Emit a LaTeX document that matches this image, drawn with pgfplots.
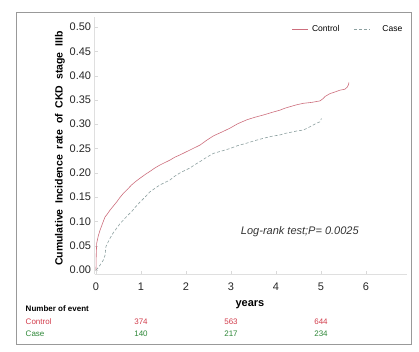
\documentclass[border=0pt]{standalone}
\usepackage{pgfplots}
\pgfplotsset{compat=1.18}
\usepackage{fontspec}
\setmainfont{Liberation Sans}
\definecolor{ctrl}{RGB}{205,110,125}
\definecolor{casec}{RGB}{140,160,160}
\definecolor{ctxt}{RGB}{210,60,75}
\definecolor{gtxt}{RGB}{45,135,55}
\begin{document}
\begin{tikzpicture}
\path (0pt,0pt) rectangle (419pt,351pt);
\draw[black!40, line width=0.9pt] (16pt,7pt) rectangle (411pt,339pt);
\begin{axis}[
  x=45pt, y=486pt,
  anchor=origin, at={(96pt,81pt)},
  xmin=-0.03, xmax=6.9, ymin=-0.009, ymax=0.52,
  axis x line*=bottom, axis y line*=left,
  axis line style={gray!25, line width=0.6pt},
  xtick={0,1,2,3,4,5,6}, ytick={0,0.05,...,0.5},
  yticklabel style={/pgf/number format/fixed, /pgf/number format/fixed zerofill, /pgf/number format/precision=2},
  xticklabel style={yshift=-5pt},
  /pgf/number format/assume math mode=true,
  tick label style={font=\fontsize{11}{12}\selectfont, text=black!85},
  major tick length=3pt,
  tick style={gray!30},
  xtick align=inside, ytick align=inside,
  clip=false,
  legend columns=2,
  legend image post style={xscale=0.9},
  legend style={draw=none, fill=none, inner xsep=0pt, at={(1.0,0.955)}, anchor=east, font=\fontsize{8.5}{10}\selectfont, /tikz/every even column/.append style={column sep=10pt}, /tikz/every odd column/.append style={}, nodes={inner xsep=4pt}},
  legend cell align=left,
]
\node[anchor=center, font=\bfseries\fontsize{10.5}{12}\selectfont, rotate=90] at (axis cs:-0.8,0.25) {Cumulative\ \ Incidence\ \ rate\ \ of\ \ CKD\ \ stage\ \ IIIb};
\addplot[ctrl, line width=0.6pt] coordinates {
(0,0) (0.005,0.03) (0.015,0.055) (0.05,0.07) (0.09,0.082) (0.15,0.097) (0.2,0.109) (0.25,0.115) (0.31,0.123) (0.38,0.131) (0.46,0.14) (0.53,0.149) (0.61,0.158) (0.7,0.166) (0.79,0.175) (0.88,0.182) (0.98,0.189) (1.1,0.197) (1.2,0.203) (1.31,0.21) (1.42,0.216) (1.53,0.221) (1.64,0.226) (1.75,0.232) (1.87,0.237) (1.98,0.242) (2.09,0.247) (2.2,0.252) (2.31,0.257) (2.46,0.267) (2.61,0.276) (2.8,0.284) (2.98,0.292) (3.15,0.301) (3.35,0.309) (3.52,0.314) (3.72,0.319) (3.9,0.324) (4.09,0.329) (4.2,0.333) (4.31,0.336) (4.46,0.34) (4.61,0.343) (4.8,0.345) (4.98,0.348) (5.05,0.353) (5.09,0.357) (5.2,0.363) (5.3,0.366) (5.42,0.37) (5.53,0.372) (5.58,0.376) (5.61,0.381) (5.62,0.386)
};
\addlegendentry{Control}
\addplot[casec, line width=0.6pt, dashed, dash pattern=on 3pt off 2pt] coordinates {
(0,0) (0.05,0.005) (0.09,0.01) (0.16,0.02) (0.2,0.03) (0.22,0.048) (0.26,0.056) (0.31,0.065) (0.38,0.076) (0.46,0.086) (0.53,0.095) (0.61,0.103) (0.7,0.112) (0.79,0.12) (0.88,0.13) (0.98,0.14) (1.1,0.151) (1.2,0.161) (1.31,0.168) (1.42,0.175) (1.53,0.18) (1.64,0.185) (1.75,0.193) (1.87,0.2) (1.98,0.205) (2.09,0.21) (2.2,0.217) (2.31,0.223) (2.46,0.232) (2.61,0.24) (2.8,0.245) (2.98,0.25) (3.15,0.256) (3.35,0.261) (3.52,0.266) (3.72,0.271) (3.9,0.275) (4.09,0.278) (4.2,0.281) (4.31,0.283) (4.46,0.286) (4.61,0.288) (4.76,0.295) (4.9,0.302) (4.98,0.305) (5.01,0.312)
};
\addlegendentry{\hspace{9pt}Case}
\node[font=\itshape\fontsize{11}{12}\selectfont, text=black!80] at (axis cs:4.53,0.078) {Log-rank test;P= 0.0025};
\node[font=\bfseries\fontsize{11}{12}\selectfont] at (axis cs:3.42,-0.071) {years};
\node[anchor=west, font=\bfseries\fontsize{8}{9}\selectfont] at (axis cs:-1.64,-0.080) {Number of event};
\node[anchor=west, font=\fontsize{8}{9}\selectfont, text=ctxt] at (axis cs:-1.64,-0.107) {Control};
\node[anchor=west, font=\fontsize{8}{9}\selectfont, text=gtxt] at (axis cs:-1.64,-0.132) {Case};
\node[font=\fontsize{8}{9}\selectfont, text=ctxt] at (axis cs:1,-0.107) {374};
\node[font=\fontsize{8}{9}\selectfont, text=ctxt] at (axis cs:3,-0.107) {563};
\node[font=\fontsize{8}{9}\selectfont, text=ctxt] at (axis cs:5,-0.107) {644};
\node[font=\fontsize{8}{9}\selectfont, text=gtxt] at (axis cs:1,-0.132) {140};
\node[font=\fontsize{8}{9}\selectfont, text=gtxt] at (axis cs:3,-0.132) {217};
\node[font=\fontsize{8}{9}\selectfont, text=gtxt] at (axis cs:5,-0.132) {234};
\end{axis}
\end{tikzpicture}
\end{document}
